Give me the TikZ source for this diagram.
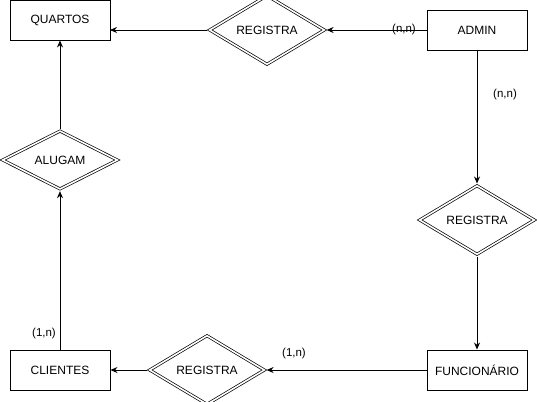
\documentclass[tikz,border=0pt]{standalone}
\usepackage{fontspec}
\setmainfont{Liberation Sans}
\usetikzlibrary{shapes.geometric,arrows.meta}
\begin{document}
\begin{tikzpicture}[x=1pt,y=-1pt,
  every node/.style={font=\fontsize{12}{14}\selectfont},
  ent/.style={draw, line width=0.9pt, minimum width=100pt, minimum height=40pt, inner sep=0pt},
  rel/.style={diamond, draw, line width=0.7pt, double, double distance=1.6pt, minimum width=116pt, minimum height=57pt, inner sep=0pt, outer sep=1.6pt},
  card/.style={font=\fontsize{11.5}{13}\selectfont, inner sep=0pt},
  conn/.style={line width=0.9pt, -{Stealth[length=7pt,width=6pt]}}
]
\useasboundingbox (0,0) rectangle (537,401);
\node[ent] (quartos) at (60,20) {QUARTOS};
\node[ent] (admin) at (477,30) {ADMIN};
\node[ent] (clientes) at (60,370) {CLIENTES};
\node[ent] (func) at (477,370) {FUNCIONÁRIO};
\node[rel] (r1) at (267,30) {REGISTRA};
\node[rel] (alugam) at (60,160) {ALUGAM};
\node[rel] (r2) at (477,220) {REGISTRA};
\node[rel] (r3) at (207,370) {REGISTRA};
\coordinate (qin) at (110,30);
\draw[conn] (r1.west) -- (qin);
\draw[conn] (admin.west) -- (r1.east);
\draw[conn] (alugam.north) -- (quartos.south);
\draw[conn] (clientes.north) -- (alugam.south);
\draw[conn] (admin.south) -- (r2.north);
\draw[conn] (r2.south) -- (func.north);
\draw[conn] (func.west) -- (r3.east);
\draw[conn] (r3.west) -- (clientes.east);
\node[card] (c1) at (404,30) {(n,n)};
\node[card] (c2) at (505,95) {(n,n)};
\node[card] (c3) at (294,354) {(1,n)};
\node[card] (c4) at (44,334) {(1,n)};
\end{tikzpicture}
\end{document}
